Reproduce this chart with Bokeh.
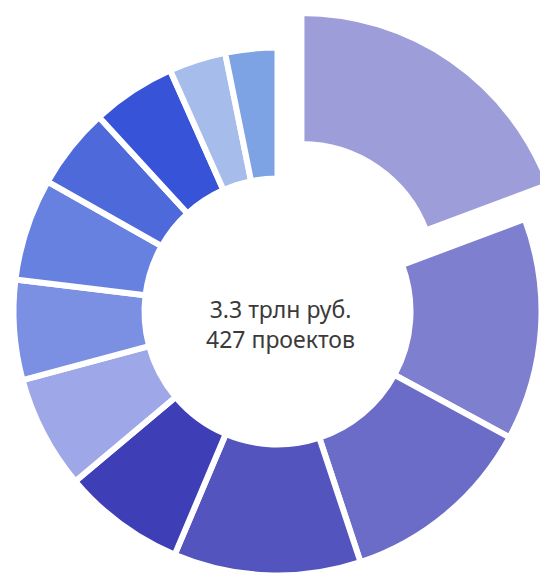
import math
from bokeh.plotting import figure
from bokeh.models import Range1d, ColumnDataSource
from bokeh.core.properties import value
from bokeh.embed import file_html
from bokeh.resources import INLINE

# Investment by segment, bn rubles, clockwise from 12 o'clock
segments = ["s1", "s2", "s3", "s4", "s5", "s6", "s7", "s8", "s9", "s10", "s11", "s12"]
values = [637, 449, 396, 378, 248, 229, 202, 206, 165, 170, 115, 105]
colors = ["#9d9ed9", "#7e7fcf", "#6b6cc7", "#5354be", "#3e3eb7", "#9ea8e8",
          "#7b90e2", "#6681df", "#4d69da", "#3753d8", "#a6bdec", "#7ea3e4"]
exploded = [True] + [False] * 11
center_lines = ["3.3 трлн руб.", "427 проектов"]

W, H = 540, 576
p = figure(width=W, height=H, output_backend="svg", toolbar_location=None,
           x_range=Range1d(0, W), y_range=Range1d(-H, 0),
           min_border=0)
p.axis.visible = False
p.grid.visible = False
p.outline_line_color = None
p.background_fill_color = "white"
p.border_fill_color = "white"

cx, cy = 277, -311
r_in, r_out = 133, 264
offset = 42

total = sum(values)
starts, ends, xs, ys = [], [], [], []
cum = 0.0
for v, ex in zip(values, exploded):
    a0 = math.pi / 2 - 2 * math.pi * cum / total
    cum += v
    a1 = math.pi / 2 - 2 * math.pi * cum / total
    mid = (a0 + a1) / 2
    d = offset if ex else 0
    starts.append(a0)
    ends.append(a1)
    xs.append(cx + d * math.cos(mid))
    ys.append(cy + d * math.sin(mid))

src = ColumnDataSource(dict(x=xs, y=ys, start=starts, end=ends, color=colors, seg=segments))
p.annular_wedge(x="x", y="y", inner_radius=r_in, outer_radius=r_out,
                start_angle="start", end_angle="end", direction="clock",
                fill_color="color", line_color="white", line_width=6, source=src)

p.text(x=[280, 280], y=[-308, -338], text=center_lines,
       text_font=value("Noto Sans"), text_font_size="23px", text_color="#3a3a3a",
       text_align="center", text_baseline="alphabetic")

open("out.html", "w").write(file_html(p, INLINE))
